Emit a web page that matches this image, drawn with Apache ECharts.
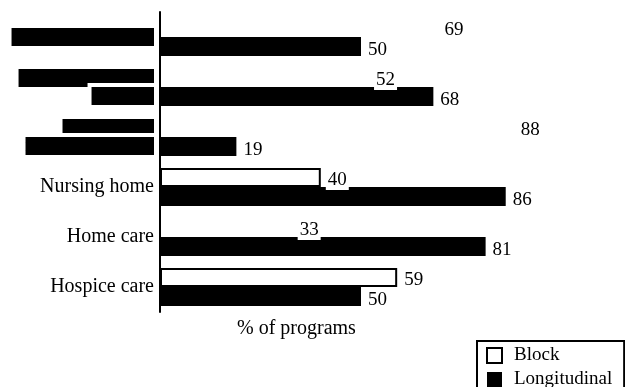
<!DOCTYPE html>
<html>
<head>
    <meta charset="utf-8">
    <title>Programs by setting</title>
    <script src="https://cdn.jsdelivr.net/npm/echarts@6/dist/echarts.min.js"></script>
</head>
<body style="margin:0">
    <div id="main" style="width: 625px;height:387px;"></div>
    <script type="text/javascript">
        // categories, top to bottom (first three are blacked out in the source)
        var categories = ['Inpatient consultant', 'Inpatient palliative\ncare unit', 'Day hospital\nrehabilitation unit', 'Nursing home', 'Home care', 'Hospice care'];
        var redacted = [true, true, true, false, false, false];
        var blockValues = [69, 52, 88, 40, 33, 59];
        var longitudinalValues = [50, 68, 19, 86, 81, 50];
        // block bars whose outline still shows in the scan
        var blockOutlined = [false, false, false, true, false, true];

        var serif = 'Liberation Serif';
        var myChart = echarts.init(document.getElementById('main'));

        var option = {
            animation: false,
            backgroundColor: '#fff',
            title: {
                text: '% of programs',
                left: 237,
                top: 319,
                padding: 0,
                textStyle: { fontFamily: serif, fontSize: 20, fontWeight: 'normal', color: '#000' }
            },
            legend: {
                orient: 'vertical',
                left: 477,
                top: 341,
                height: 80,
                padding: [5, 12, 5, 9],
                borderColor: '#000',
                borderWidth: 2,
                itemWidth: 15,
                itemHeight: 15,
                itemGap: 5,
                textStyle: { fontFamily: serif, fontSize: 19, color: '#000', padding: [0, 0, 0, 7] },
                data: [
                    { name: 'Block', icon: 'rect', itemStyle: { color: '#fff', borderColor: '#000', borderWidth: 2 } },
                    { name: 'Longitudinal', icon: 'rect', itemStyle: { color: '#000' } }
                ]
            },
            grid: { left: 160, top: 12, right: 63, bottom: 75, outerBoundsMode: 'none' },
            xAxis: { type: 'value', min: 0, max: 100, show: false },
            yAxis: {
                type: 'category',
                inverse: true,
                z: 5,
                data: categories,
                axisLine: { lineStyle: { color: '#000', width: 2 } },
                axisTick: { show: false },
                axisLabel: {
                    margin: 6,
                    color: '#000',
                    fontFamily: serif,
                    fontSize: 20,
                    formatter: function (value, idx) {
                        if (!redacted[idx]) return value;
                        return value.split('\n').map(function (line) {
                            return '{r|' + line + '}';
                        }).join('\n');
                    },
                    rich: {
                        r: {
                            color: '#000',
                            backgroundColor: '#000',
                            borderColor: '#fff',
                            borderWidth: 4,
                            lineHeight: 18,
                            fontFamily: serif,
                            fontSize: 18
                        }
                    }
                }
            },
            series: [
                {
                    name: 'Block',
                    type: 'bar',
                    barWidth: 19,
                    barGap: 0,
                    itemStyle: { color: '#fff' },
                    label: {
                        show: true,
                        position: 'right',
                        distance: 5,
                        offset: [0, 3],
                        color: '#000',
                        fontFamily: serif,
                        fontSize: 19,
                        backgroundColor: '#fff',
                        padding: [0, 2]
                    },
                    data: blockValues.map(function (v, i) {
                        return blockOutlined[i]
                            ? { value: v, itemStyle: { borderColor: '#000', borderWidth: 2 } }
                            : v;
                    })
                },
                {
                    name: 'Longitudinal',
                    type: 'bar',
                    barWidth: 19,
                    itemStyle: { color: '#000' },
                    label: {
                        show: true,
                        position: 'right',
                        distance: 5,
                        offset: [0, 4],
                        color: '#000',
                        fontFamily: serif,
                        fontSize: 19,
                        backgroundColor: '#fff',
                        padding: [0, 2]
                    },
                    data: longitudinalValues
                }
            ]
        };
        myChart.setOption(option);
    </script>
</body>
</html>
